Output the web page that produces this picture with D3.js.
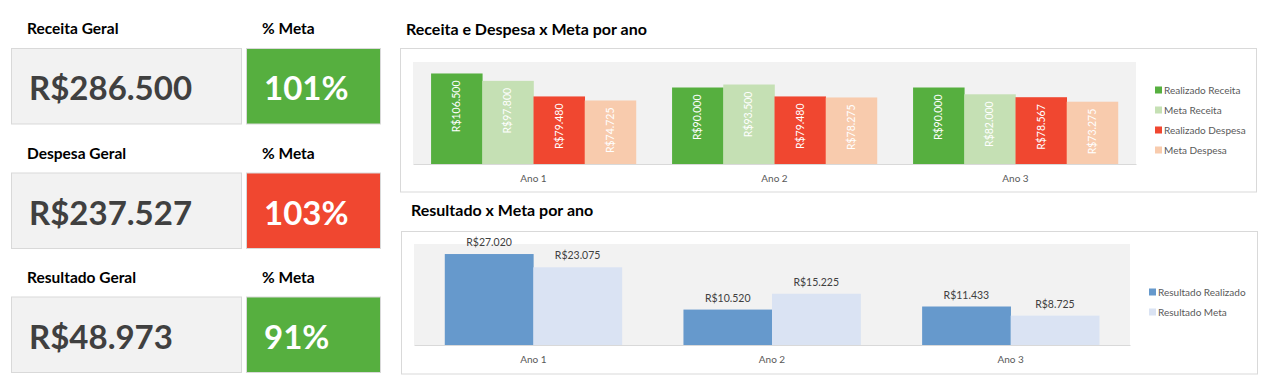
<!DOCTYPE html>
<html><head><meta charset="utf-8">
<script src="https://cdn.jsdelivr.net/npm/d3@7"></script>
<style>
html,body{margin:0;padding:0;background:#fff;}
svg{display:block;font-family:Lato,"Open Sans",sans-serif;}
</style></head>
<body><svg id="c" width="1273" height="381"></svg>
<script>
// ---- data ----
const kpiLabels = ["Receita Geral", "Despesa Geral", "Resultado Geral"];
const kpiValues = [286500, 237527, 48973];
const kpiPct = [101, 103, 91];
const kpiGood = [true, false, true];

const categories = ["Ano 1", "Ano 2", "Ano 3"];
const realizadoReceita = [106500, 90000, 90000];
const metaReceita = [97800, 93500, 82000];
const realizadoDespesa = [79480, 79480, 78567];
const metaDespesa = [74725, 78275, 73275];
const topSeriesNames = ["Realizado Receita", "Meta Receita", "Realizado Despesa", "Meta Despesa"];

const resultadoRealizado = [27020, 10520, 11433];
const resultadoMeta = [23075, 15225, 8725];
const botSeriesNames = ["Resultado Realizado", "Resultado Meta"];

// ---- styles ----
const topColors = ["#56af3f", "#c5e0b4", "#f04730", "#f8cbad"];
const botColors = ["#6699cc", "#dae3f3"];
const loc = d3.formatLocale({decimal: ",", thousands: ".", grouping: [3], currency: ["R$", ""]});
const fmt = loc.format("$,.0f");

const svg = d3.select("#c");

// ---- KPI cards ----
const cardTops = [48, 172.5, 296.5];
kpiLabels.forEach((lab, i) => {
  const y0 = cardTops[i];
  svg.append("text").attr("x", 27).attr("y", y0 - 14).attr("font-size", 15.5).attr("font-weight", 700)
    .attr("fill", "#000").text(lab);
  svg.append("text").attr("x", 262).attr("y", y0 - 14).attr("font-size", 15.5).attr("font-weight", 700)
    .attr("fill", "#000").text("% Meta");
  svg.append("rect").attr("x", 11.5).attr("y", y0 + 0.5).attr("width", 230).attr("height", 75.5)
    .attr("fill", "#f2f2f2").attr("stroke", "#d9d9d9").attr("stroke-width", 1);
  svg.append("rect").attr("x", 246.5).attr("y", y0 + 0.5).attr("width", 134).attr("height", 75.5)
    .attr("fill", kpiGood[i] ? "#56af3f" : "#f04730").attr("stroke", "#d9d9d9").attr("stroke-width", 1);
  svg.append("text").attr("x", 29).attr("y", y0 + 52).attr("font-size", 33).attr("font-weight", 700)
    .attr("fill", "#404040").text(fmt(kpiValues[i]));
  svg.append("text").attr("x", 264).attr("y", y0 + 52).attr("font-size", 33).attr("font-weight", 700)
    .attr("fill", "#fff").text(kpiPct[i] + "%");
});

// ---- Top chart ----
svg.append("text").attr("x", 406).attr("y", 35).attr("font-size", 16).attr("font-weight", 700)
  .attr("fill", "#000").text("Receita e Despesa x Meta por ano");
svg.append("rect").attr("x", 400.5).attr("y", 48.5).attr("width", 856).attr("height", 143.5)
  .attr("fill", "#fff").attr("stroke", "#d9d9d9");

const tp = {l: 413, r: 1136, t: 62, b: 164};
svg.append("rect").attr("x", tp.l).attr("y", tp.t).attr("width", tp.r - tp.l).attr("height", tp.b - tp.t).attr("fill", "#f2f2f2");
const x0 = d3.scaleBand().domain(categories).range([tp.l, tp.r]).paddingInner(0.15).paddingOuter(0.075);
const topSeries = [realizadoReceita, metaReceita, realizadoDespesa, metaDespesa];
const x1 = d3.scaleBand().domain(d3.range(4)).range([0, x0.bandwidth()]);
const yT = d3.scaleLinear().domain([0, 120000]).range([tp.b, tp.t]);
const gT = svg.append("g");
categories.forEach((c, ci) => {
  topSeries.forEach((s, si) => {
    const bx = x0(c) + x1(si), by = yT(s[ci]);
    gT.append("rect").attr("x", bx).attr("y", by).attr("width", x1.bandwidth() + 0.3).attr("height", tp.b - by).attr("fill", topColors[si]);
    gT.append("text").attr("transform", `translate(${bx + x1.bandwidth() / 2 + 3.5},${by + 7}) rotate(-90)`)
      .attr("text-anchor", "end").attr("font-size", 10.5).attr("fill", "#fff").text(fmt(s[ci]));
  });
});
const axT = svg.append("g").attr("transform", `translate(0,${tp.b})`).call(d3.axisBottom(x0).tickSize(0).tickPadding(11));
axT.select(".domain").attr("stroke", "#d9d9d9");
axT.selectAll("text").attr("font-size", 10).attr("fill", "#595959").attr("font-family", "Lato,'Open Sans',sans-serif");
topSeriesNames.forEach((n, i) => {
  const cy = 90 + i * 20;
  svg.append("rect").attr("x", 1155).attr("y", cy - 3.5).attr("width", 7).attr("height", 7).attr("fill", topColors[i]);
  svg.append("text").attr("x", 1164).attr("y", cy + 3.5).attr("font-size", 10).attr("fill", "#595959").text(n);
});

// ---- Bottom chart ----
svg.append("text").attr("x", 411).attr("y", 216).attr("font-size", 16).attr("font-weight", 700)
  .attr("fill", "#000").text("Resultado x Meta por ano");
svg.append("rect").attr("x", 401.5).attr("y", 231.5).attr("width", 856).attr("height", 142.5)
  .attr("fill", "#fff").attr("stroke", "#d9d9d9");
const bp = {l: 414, r: 1130, t: 244, b: 345};
svg.append("rect").attr("x", bp.l).attr("y", bp.t).attr("width", bp.r - bp.l).attr("height", bp.b - bp.t).attr("fill", "#f2f2f2");
const bx0 = d3.scaleBand().domain(categories).range([bp.l, bp.r]).paddingInner(0.258).paddingOuter(0.129);
const botSeries = [resultadoRealizado, resultadoMeta];
const bx1 = d3.scaleBand().domain(d3.range(2)).range([0, bx0.bandwidth()]);
const yB = d3.scaleLinear().domain([0, 30000]).range([bp.b, bp.t]);
const gB = svg.append("g");
categories.forEach((c, ci) => {
  botSeries.forEach((s, si) => {
    const bx = bx0(c) + bx1(si), by = yB(s[ci]);
    gB.append("rect").attr("x", bx).attr("y", by).attr("width", bx1.bandwidth() + 0.3).attr("height", bp.b - by).attr("fill", botColors[si]);
    gB.append("text").attr("x", bx + bx1.bandwidth() / 2).attr("y", by - 8).attr("text-anchor", "middle")
      .attr("font-size", 10.5).attr("fill", "#404040").text(fmt(s[ci]));
  });
});
const axB = svg.append("g").attr("transform", `translate(0,${bp.b})`).call(d3.axisBottom(bx0).tickSize(0).tickPadding(11));
axB.select(".domain").attr("stroke", "#d9d9d9");
axB.selectAll("text").attr("font-size", 10).attr("fill", "#595959").attr("font-family", "Lato,'Open Sans',sans-serif");
botSeriesNames.forEach((n, i) => {
  const cy = 292 + i * 20;
  svg.append("rect").attr("x", 1149).attr("y", cy - 3.5).attr("width", 7).attr("height", 7).attr("fill", botColors[i]);
  svg.append("text").attr("x", 1158).attr("y", cy + 3.5).attr("font-size", 10).attr("fill", "#595959").text(n);
});
</script></body></html>
